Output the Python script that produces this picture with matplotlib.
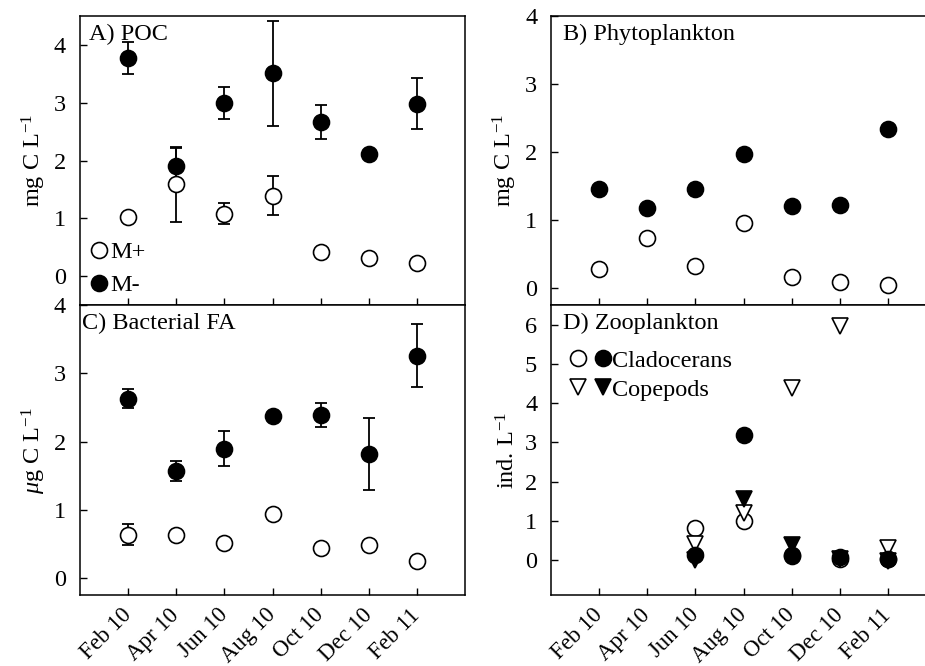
import numpy as np
import matplotlib
matplotlib.use('Agg')
import matplotlib.pyplot as plt
import matplotlib.transforms as mtransforms
from matplotlib.lines import Line2D
from matplotlib.legend_handler import HandlerTuple

plt.rcParams['font.family'] = ['Liberation Serif', 'DejaVu Serif']
plt.rcParams['mathtext.fontset'] = 'custom'
plt.rcParams['mathtext.rm'] = 'Liberation Serif'
plt.rcParams['mathtext.it'] = 'Liberation Serif:italic'

months = ['Feb 10', 'Apr 10', 'Jun 10', 'Aug 10', 'Oct 10', 'Dec 10', 'Feb 11']
nan = np.nan

# A) POC (mg C L-1)
poc_minus = [3.77, 1.90, 3.00, 3.51, 2.67, 2.11, 2.98]
poc_minus_err = [0.28, 0.32, 0.28, 0.91, 0.29, 0.0, 0.44]
poc_plus = [1.03, 1.59, 1.08, 1.39, 0.42, 0.32, 0.22]
poc_plus_err = [0.0, 0.65, 0.18, 0.34, 0.0, 0.0, 0.0]

# B) Phytoplankton (mg C L-1)
phyto_minus = [1.45, 1.17, 1.46, 1.97, 1.20, 1.22, 2.34]
phyto_plus = [0.28, 0.73, 0.32, 0.95, 0.16, 0.09, 0.05]

# C) Bacterial FA (ug C L-1)
bfa_minus = [2.63, 1.57, 1.90, 2.37, 2.39, 1.82, 3.26]
bfa_minus_err = [0.14, 0.15, 0.26, 0.0, 0.18, 0.52, 0.46]
bfa_plus = [0.64, 0.64, 0.52, 0.94, 0.44, 0.49, 0.26]
bfa_plus_err = [0.15, 0.0, 0.0, 0.0, 0.0, 0.0, 0.0]

# D) Zooplankton (ind. L-1)
clad_plus = [nan, nan, 0.82, 1.00, 0.10, 0.02, 0.02]
clad_minus = [nan, nan, 0.12, 3.20, 0.13, 0.08, 0.02]
cope_plus = [nan, nan, 0.42, 1.20, 4.38, 5.96, 0.32]
cope_minus = [nan, nan, 0.00, 1.55, 0.38, 0.04, -0.02]

x = np.arange(len(months))
FS = 17.5
MS = 11.5

fig = plt.figure(figsize=(9.25, 6.66), dpi=100)
L1, L2, W = 0.0865, 0.5957, 0.4162
B0, H = 0.106, 0.436
axA = fig.add_axes([L1, B0 + H, W, 0.976 - B0 - H])
axC = fig.add_axes([L1, B0, W, H])
axB = fig.add_axes([L2, B0 + H, W, 0.976 - B0 - H])
axD = fig.add_axes([L2, B0, W, H])
shift = mtransforms.ScaledTranslation(4 / 72, 0, fig.dpi_scale_trans)


def style(ax, ylim, yticks, ylabel, title, tx, labels):
    ax.set_xlim(-1, 7)
    ax.set_ylim(*ylim)
    ax.set_yticks(yticks)
    ax.set_xticks(x)
    ax.tick_params(direction='in', length=5, width=1, labelsize=FS, pad=10)
    if labels:
        ax.set_xticklabels(months, rotation=45, ha='right', va='center',
                           rotation_mode='anchor', fontsize=16.5)
        for lab in ax.get_xticklabels():
            lab.set_transform(lab.get_transform() + shift)
    else:
        ax.set_xticklabels([])
    ax.tick_params(axis='x', pad=12)
    for s in ax.spines.values():
        s.set_linewidth(1.1)
    ax.set_ylabel(ylabel, fontsize=FS, labelpad=4)
    ax.text(tx, 0.935, title, transform=ax.transAxes, fontsize=FS, va='center', ha='left')


def errpts(ax, y, err, filled):
    e = np.array(err)
    y = np.array(y)
    m = e > 0
    ax.errorbar(x[m], y[m], yerr=e[m], fmt='none', ecolor='black', elinewidth=1.3,
                capsize=4, capthick=1.3, zorder=2)
    ax.plot(x, y, 'o', ms=MS, mfc='black' if filled else 'white', mec='black',
            mew=1.2, ls='none', zorder=3)


# A
errpts(axA, poc_plus, poc_plus_err, False)
errpts(axA, poc_minus, poc_minus_err, True)
style(axA, (-0.5, 4.5), range(5), r'mg C L$^{-1}$', 'A) POC', 0.024, False)
hA = [Line2D([], [], marker='o', ls='none', ms=MS, mfc='white', mec='black', mew=1.2),
      Line2D([], [], marker='o', ls='none', ms=MS, mfc='black', mec='black', mew=1.2)]
axA.legend(hA, ['M+', 'M-'], loc='lower left', frameon=False, fontsize=FS,
           handlelength=0.6, handletextpad=0.15, labelspacing=0.45,
           borderaxespad=0.0, borderpad=0.0, bbox_to_anchor=(0.03, 0.03))

# B
axB.plot(x, phyto_plus, 'o', ms=MS, mfc='white', mec='black', mew=1.2)
axB.plot(x, phyto_minus, 'o', ms=MS, mfc='black', mec='black', mew=1.2)
style(axB, (-0.25, 4), range(5), r'mg C L$^{-1}$', 'B) Phytoplankton', 0.03, False)

# C
errpts(axC, bfa_plus, bfa_plus_err, False)
errpts(axC, bfa_minus, bfa_minus_err, True)
style(axC, (-0.25, 4), range(5), r'$\mu$g C L$^{-1}$', 'C) Bacterial FA', 0.005, True)

# D
axD.plot(x, clad_plus, 'o', ms=MS, mfc='white', mec='black', mew=1.2, zorder=2)
axD.plot(x, cope_plus, 'v', ms=MS, mfc='white', mec='black', mew=1.2, zorder=3)
axD.plot(x, clad_minus, 'o', ms=MS, mfc='black', mec='black', mew=1.2, zorder=4)
axD.plot(x, cope_minus, 'v', ms=MS, mfc='black', mec='black', mew=1.2, zorder=5)
style(axD, (-0.9, 6.5), range(7), r'ind. L$^{-1}$', 'D) Zooplankton', 0.03, True)
co = Line2D([], [], marker='o', ls='none', ms=MS, mfc='white', mec='black', mew=1.2)
cf = Line2D([], [], marker='o', ls='none', ms=MS, mfc='black', mec='black', mew=1.2)
to = Line2D([], [], marker='v', ls='none', ms=MS, mfc='white', mec='black', mew=1.2)
tf = Line2D([], [], marker='v', ls='none', ms=MS, mfc='black', mec='black', mew=1.2)
axD.legend([(co, cf), (to, tf)], ['Cladocerans', 'Copepods'], loc='upper left',
           bbox_to_anchor=(0.02, 0.88), frameon=False, fontsize=FS,
           handler_map={tuple: HandlerTuple(ndivide=None, pad=0.25)},
           handlelength=1.8, handletextpad=0.0, labelspacing=0.3, borderaxespad=0.0)

fig.savefig('out.png', dpi=100)
